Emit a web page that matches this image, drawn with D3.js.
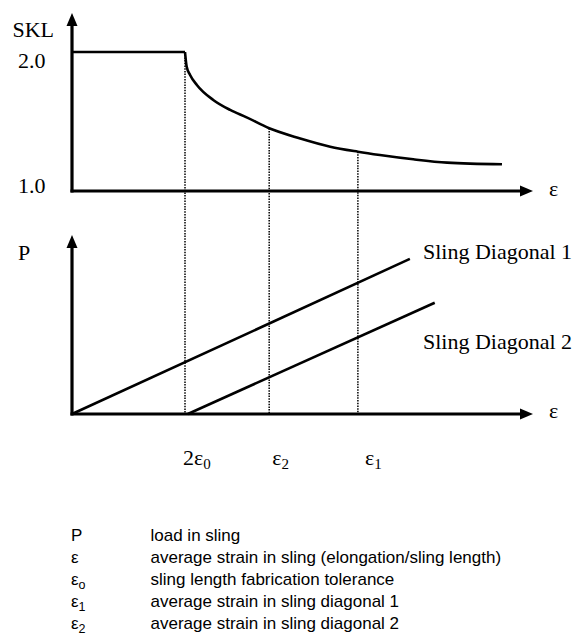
<!DOCTYPE html>
<html>
<head>
<meta charset="utf-8">
<script src="https://cdn.jsdelivr.net/npm/d3@7"></script>
<style>
  body { margin: 0; background: #fff; }
  svg { display: block; }
  .serif { font-family: 'Liberation Serif', 'Times New Roman', serif; fill: #000; }
  .sans { font-family: 'Liberation Sans', Arial, sans-serif; fill: #000; }
</style>
</head>
<body>
<svg id="chart" width="580" height="637"></svg>
<script>
// strain in units of eps0
const flatEps = [0, 2.0];
const flatSkl = [2.0, 2.0];
const curveEps = [2.0, 2.03, 2.09, 2.21, 2.5, 2.8, 3.09, 3.49, 4.04, 4.57, 5.06, 5.45, 6.04, 6.64, 7.61];
const curveSkl = [2.0, 1.894, 1.835, 1.763, 1.655, 1.583, 1.53, 1.451, 1.378, 1.319, 1.283, 1.259, 1.228, 1.204, 1.192];

const markEps = [2.0, 3.49, 5.06];
const markSkl = [2.0, 1.451, 1.283];
const markBase = ['2ε', 'ε', 'ε'];
const markSub = ['0', '2', '1'];

const diag1Eps = [0, 5.98];
const diag1P = [0, 6.01];
const diag2Eps = [2.05, 6.42];
const diag2P = [0, 4.31];
const diagNames = ['Sling Diagonal 1', 'Sling Diagonal 2'];

const sklTicks = [2.0, 1.0];

const legendSym = ['P', 'ε', 'ε', 'ε', 'ε'];
const legendSub = ['', '', 'o', '1', '2'];
const legendText = [
  'load in sling',
  'average strain in sling (elongation/sling length)',
  'sling length fabrication tolerance',
  'average strain in sling diagonal 1',
  'average strain in sling diagonal 2',
];

const svg = d3.select('#chart');

let x = d3.scaleLinear().domain([0, 8]).range([72, 524]);
let ySkl = d3.scaleLinear().domain([1, 2]).range([191, 52]);
let yP = d3.scaleLinear().domain([0, 7]).range([414, 233.4]);

const xEnd = 533;

function arrowUp(cx, tipY) {
  svg.append('path')
    .attr('d', `M${cx},${tipY} L${cx - 5.5},${tipY + 13} L${cx + 5.5},${tipY + 13} Z`)
    .attr('fill', '#000');
}
function arrowRight(tipX, cy) {
  svg.append('path')
    .attr('d', `M${tipX},${cy} L${tipX - 13},${cy - 5.5} L${tipX - 13},${cy + 5.5} Z`)
    .attr('fill', '#000');
}

// dotted guides, behind everything
markEps.forEach((e, i) => {
  svg.append('line')
    .attr('x1', x(e)).attr('x2', x(e))
    .attr('y1', ySkl(markSkl[i])).attr('y2', yP(0))
    .attr('stroke', '#000')
    .attr('stroke-width', 1.5)
    .attr('stroke-dasharray', '1.5,1.2');
});

// axes
function drawAxes(yScale, base, tipY) {
  svg.append('line')
    .attr('x1', x(0)).attr('x2', x(0))
    .attr('y1', yScale(base) + 1.5).attr('y2', tipY + 8)
    .attr('stroke', '#000').attr('stroke-width', 3.2);
  svg.append('line')
    .attr('x1', x(0) - 1.5).attr('x2', xEnd - 8)
    .attr('y1', yScale(base)).attr('y2', yScale(base))
    .attr('stroke', '#000').attr('stroke-width', 3.2);
  arrowUp(x(0), tipY);
  arrowRight(xEnd, yScale(base));
}
drawAxes(ySkl, 1, 13);
drawAxes(yP, 0, 235);

// SKL curve
let lineSkl = d3.line().x((d) => x(d[0])).y((d) => ySkl(d[1]));
svg.append('path')
  .attr('d', lineSkl(d3.zip(flatEps, flatSkl)))
  .attr('fill', 'none').attr('stroke', '#000').attr('stroke-width', 2.6);
svg.append('path')
  .attr('d', lineSkl.curve(d3.curveMonotoneX)(d3.zip(curveEps, curveSkl)))
  .attr('fill', 'none').attr('stroke', '#000').attr('stroke-width', 2.6);

// P lines
let lineP = d3.line().x((d) => x(d[0])).y((d) => yP(d[1]));
[d3.zip(diag1Eps, diag1P), d3.zip(diag2Eps, diag2P)].forEach((pts) => {
  svg.append('path')
    .attr('d', lineP(pts))
    .attr('fill', 'none').attr('stroke', '#000').attr('stroke-width', 2.6);
});

// labels
const fs = 22;
svg.append('text').attr('class', 'serif').attr('font-size', fs)
  .attr('x', 12.5).attr('y', 36.5).text('SKL');
sklTicks.forEach((t, i) => {
  svg.append('text').attr('class', 'serif').attr('font-size', fs)
    .attr('x', 18).attr('y', ySkl(t) + (i === 0 ? 16 : 2))
    .text(t.toFixed(1));
});
svg.append('text').attr('class', 'serif').attr('font-size', fs)
  .attr('x', 18).attr('y', 260).text('P');
[ySkl(1) + 5, yP(0) + 4].forEach((yy) => {
  svg.append('text').attr('class', 'serif').attr('font-size', fs)
    .attr('x', 549).attr('y', yy).text('ε');
});

// diagonal names
svg.append('text').attr('class', 'serif').attr('font-size', fs)
  .attr('x', 423).attr('y', 259).text(diagNames[0]);
svg.append('text').attr('class', 'serif').attr('font-size', fs)
  .attr('x', 423).attr('y', 349).text(diagNames[1]);

// strain marks
const markDx = [-2, 3, 7];
markEps.forEach((e, i) => {
  let t = svg.append('text').attr('class', 'serif').attr('font-size', fs)
    .attr('x', x(e) + markDx[i]).attr('y', 465);
  t.append('tspan').text(markBase[i]);
  t.append('tspan').attr('font-size', 15).attr('dy', 4).text(markSub[i]);
});

// legend
const legFs = 17;
legendText.forEach((txt, i) => {
  let yy = 541 + i * 22;
  let s = svg.append('text').attr('class', 'sans').attr('font-size', legFs)
    .attr('x', 71).attr('y', yy);
  s.append('tspan').text(legendSym[i]);
  if (legendSub[i]) {
    s.append('tspan').attr('font-size', 12.5).attr('dy', 4).text(legendSub[i]);
  }
  svg.append('text').attr('class', 'sans').attr('font-size', legFs)
    .attr('x', 150.5).attr('y', yy).text(txt);
});
</script>
</body>
</html>
